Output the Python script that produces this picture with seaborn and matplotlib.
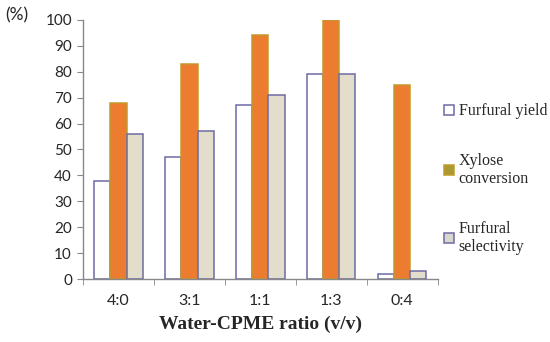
import pandas as pd
import matplotlib.pyplot as plt
import seaborn as sns
from matplotlib.patches import Patch

ratios = ['4:0', '3:1', '1:1', '1:3', '0:4']
series = ['Furfural yield', 'Xylose\nconversion', 'Furfural\nselectivity']
furfural_yield = [38, 47, 67, 79, 2]
xylose_conversion = [68, 83, 94, 100, 75]
furfural_selectivity = [56, 57, 71, 79, 3]

df = pd.DataFrame({
    'ratio': ratios * 3,
    'series': [series[0]] * 5 + [series[1]] * 5 + [series[2]] * 5,
    'value': furfural_yield + xylose_conversion + furfural_selectivity,
})

sns.set_style('white')
plt.rcParams['font.family'] = ['Lato', 'DejaVu Sans']

fig = plt.figure(figsize=(5.5, 3.42), dpi=100)
ax = fig.add_axes([0.151, 0.184, 0.645, 0.758])

faces = ['white', '#EC7C30', '#E2DECB']
edges = ['#6B69A6', '#C49A2C', '#6E6AA2']

sns.barplot(data=df, x='ratio', y='value', hue='series', order=ratios,
            hue_order=series, width=0.68, gap=0, ax=ax, legend=False,
            palette=faces)
for cont, fc, ec in zip(ax.containers, faces, edges):
    for bar in cont:
        bar.set_facecolor(fc)
        bar.set_edgecolor(ec)
        bar.set_linewidth(1.1)

ax.set_xlim(-0.5, 4.5)
ax.set_ylim(0, 100)
ax.set_yticks(range(0, 101, 10))
ax.set_xticks([i - 0.5 for i in range(6)], minor=True)
ax.tick_params(axis='x', which='major', length=0, pad=11, labelsize=11.5)
ax.tick_params(axis='x', which='minor', length=4, color='#888888', direction='out')
ax.tick_params(axis='y', length=4, color='#888888', direction='out', labelsize=11, pad=4)
ax.xaxis.set_ticks_position('bottom')
ax.yaxis.set_ticks_position('left')
for s in ['top', 'right']:
    ax.spines[s].set_visible(False)
for s in ['left', 'bottom']:
    ax.spines[s].set_color('#888888')
    ax.spines[s].set_linewidth(1)

ax.set_ylabel('')
ax.set_xlabel('Water-CPME ratio (v/v)', family='Liberation Serif',
              fontweight='bold', fontsize=14, labelpad=5)
fig.text(0.01, 0.955, '(%)', fontsize=12.5, ha='left', va='center')

legend_colors = ['white', '#A89A30', '#D8D8CC']
handles = [Patch(facecolor=f, edgecolor=e, linewidth=1.1)
           for f, e in zip(legend_colors, edges)]
fig.legend(handles, series, loc='upper left', bbox_to_anchor=(0.782, 0.74),
           frameon=False, prop={'family': 'Liberation Serif', 'size': 11.5},
           handlelength=0.6, handleheight=0.6, handletextpad=0.3,
           labelspacing=2.1)

fig.savefig('out.png', dpi=100)
